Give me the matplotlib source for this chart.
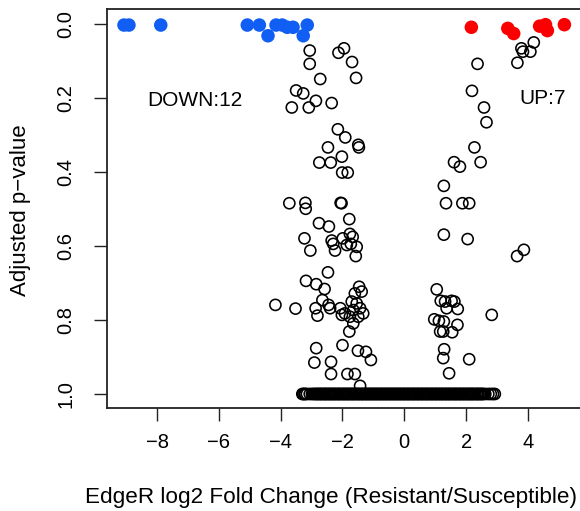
import matplotlib
matplotlib.use("Agg")
import matplotlib.pyplot as plt

plt.rcParams['font.family'] = ['Liberation Sans', 'DejaVu Sans']

# Significant down-regulated (blue)
down_x = [-9.07, -8.91, -7.88, -5.08, -4.69, -4.41, -4.15, -3.95, -3.79, -3.60, -3.27, -3.14]
down_p = [0.002, 0.002, 0.002, 0.002, 0.002, 0.031, 0.002, 0.002, 0.008, 0.008, 0.031, 0.002]

# Significant up-regulated (red)
up_x = [2.17, 3.35, 3.54, 4.38, 4.57, 4.63, 5.18]
up_p = [0.008, 0.011, 0.025, 0.005, 0.001, 0.017, 0.001]

# Non-significant genes, scattered
ns_x = [-3.06, -3.06, -2.13, -1.95, -1.69, -2.72, -1.56, -3.50, -3.27, -3.64,
        -3.09, -2.86, -2.35, -2.15, -1.91, -2.47, -1.49, -1.47, -2.02, -2.75,
        -2.38, -2.01, -1.83, -3.72, -3.20, -3.19, -2.06, -2.03, -1.78, -2.76,
        -2.44, -3.23, -3.04, -2.35, -2.30, -2.24, -1.99, -1.76, -1.86, -1.67,
        -1.54, -1.73, -1.57, -2.47, -3.18, -2.85, -2.58, -2.65, -2.45, -4.17,
        -3.52, -2.87, -2.81, -2.40, -2.07, -2.02, -1.46, -1.60, -1.38, -1.70,
        -1.54, -1.65, -1.43, -1.76, -1.49, -1.33, -1.92, -1.65, -1.78, -2.85,
        -2.00, -1.50, -1.24, -1.08, -2.91, -2.37, -2.37, -1.84, -1.60, -1.43,
        2.37, 3.66, 2.19, 2.58, 2.66, 2.27, 1.61, 1.80, 2.47, 1.28,
        1.35, 1.88, 2.10, 1.28, 2.05, 3.65, 3.87, 4.19, 3.79, 3.84,
        4.08, 1.05, 1.18, 1.32, 1.53, 1.62, 1.37, 1.73, 2.83, 0.97,
        1.12, 1.28, 1.72, 1.16, 1.26, 1.55, 1.29, 1.26, 2.10, 1.45]
ns_p = [0.071, 0.107, 0.077, 0.065, 0.102, 0.148, 0.145, 0.179, 0.187, 0.225,
        0.225, 0.207, 0.213, 0.284, 0.306, 0.333, 0.326, 0.333, 0.358, 0.374,
        0.374, 0.401, 0.401, 0.484, 0.483, 0.499, 0.483, 0.484, 0.527, 0.538,
        0.547, 0.579, 0.612, 0.585, 0.594, 0.612, 0.579, 0.567, 0.597, 0.575,
        0.602, 0.594, 0.627, 0.671, 0.694, 0.703, 0.716, 0.746, 0.759, 0.759,
        0.769, 0.768, 0.788, 0.768, 0.768, 0.786, 0.710, 0.728, 0.723, 0.750,
        0.755, 0.773, 0.768, 0.791, 0.791, 0.782, 0.782, 0.809, 0.831, 0.876,
        0.868, 0.883, 0.886, 0.908, 0.915, 0.913, 0.946, 0.946, 0.946, 0.978,
        0.107, 0.104, 0.180, 0.225, 0.265, 0.333, 0.373, 0.385, 0.373, 0.437,
        0.484, 0.484, 0.484, 0.569, 0.581, 0.627, 0.610, 0.049, 0.065, 0.074,
        0.074, 0.717, 0.748, 0.750, 0.748, 0.750, 0.768, 0.770, 0.786, 0.798,
        0.802, 0.804, 0.813, 0.831, 0.831, 0.833, 0.879, 0.903, 0.906, 0.944]

# Genes with adjusted p-value of 1 (dense band)
one_x = [-3.30, -3.27, -3.23, -3.20, -3.15, -3.06, -2.99, -2.93, -2.89, -2.84,
         -2.81, -2.77, -2.72, -2.70, -2.66, -2.61, -2.58, -2.55, -2.50, -2.47,
         -2.43, -2.39, -2.36, -2.32, -2.27, -2.25, -2.21, -2.16, -2.13, -2.10,
         -2.05, -2.02, -1.98, -1.94, -1.91, -1.87, -1.82, -1.80, -1.76, -1.71,
         -1.68, -1.65, -1.60, -1.57, -1.53, -1.49, -1.46, -1.42, -1.37, -1.35,
         -1.31, -1.26, -1.23, -1.20, -1.15, -1.12, -1.08, -1.04, -1.01, -0.97,
         -0.92, -0.90, -0.86, -0.81, -0.78, -0.75, -0.70, -0.67, -0.63, -0.59,
         -0.56, -0.52, -0.47, -0.45, -0.41, -0.36, -0.33, -0.30, -0.25, -0.22,
         -0.18, -0.14, -0.11, -0.07, -0.02, 0.00, 0.04, 0.09, 0.12, 0.15,
         0.20, 0.23, 0.27, 0.31, 0.34, 0.38, 0.43, 0.45, 0.49, 0.54,
         0.57, 0.60, 0.65, 0.68, 0.72, 0.76, 0.79, 0.83, 0.88, 0.90,
         0.94, 0.99, 1.02, 1.05, 1.10, 1.13, 1.17, 1.21, 1.24, 1.28,
         1.33, 1.35, 1.39, 1.44, 1.47, 1.50, 1.55, 1.58, 1.62, 1.66,
         1.69, 1.73, 1.78, 1.80, 1.84, 1.89, 1.92, 1.95, 2.00, 2.03,
         2.07, 2.11, 2.14, 2.18, 2.22, 2.25, 2.29, 2.34, 2.37, 2.40,
         2.45, 2.48, 2.52, 2.55, 2.62, 2.72, 2.80, 2.87, 2.93]
one_p = [1.0] * len(one_x)

x_ticks = [-8, -6, -4, -2, 0, 2, 4]
y_ticks = [0.0, 0.2, 0.4, 0.6, 0.8, 1.0]
y_tick_labels = ["0.0", "0.2", "0.4", "0.6", "0.8", "1.0"]

W, H = 580, 511
fig = plt.figure(figsize=(W / 100, H / 100), dpi=100)
ax = fig.add_axes([107 / W, (H - 408.3) / H, (586 - 107) / W, (408.3 - 9) / H])

circle_kw = dict(s=64, facecolors='none', edgecolors='black', linewidths=1.15)
ax.scatter(one_x, one_p, **circle_kw, zorder=2)
ax.scatter(ns_x, ns_p, **circle_kw, zorder=2)
ax.scatter(down_x, down_p, s=95, color='#105ef4', edgecolors='none', zorder=3)
ax.scatter(up_x, up_p, s=95, color='#fa0000', edgecolors='none', zorder=3)

ax.text(-6.77, 0.205, "DOWN:12", ha='center', va='center', fontsize=15)
ax.text(4.47, 0.2, "UP:7", ha='center', va='center', fontsize=15)

ax.set_xlim(-9.62, 5.88)
ax.set_ylim(1.0387, -0.0414)
ax.set_xticks(x_ticks)
ax.set_xticklabels([("\u2212%d" % -t) if t < 0 else "%d" % t for t in x_ticks])
ax.set_yticks(y_ticks)
ax.set_yticklabels(y_tick_labels, rotation=90, va='center')
ax.tick_params(axis='both', length=9.5, width=1.0, color='#222222', labelsize=14.5)
ax.tick_params(axis='x', pad=8)
ax.tick_params(axis='y', pad=13)
for s in ax.spines.values():
    s.set_linewidth(1.3)
    s.set_color('#222222')

fig.text(331 / W, 1 - 497 / H, "EdgeR log2 Fold Change (Resistant/Susceptible)",
         ha='center', va='center', fontsize=16.2)
fig.text(21 / W, 1 - 210 / H, "Adjusted p\u2212value", rotation=90,
         ha='center', va='center', fontsize=16)

fig.savefig("out.png", dpi=100)
